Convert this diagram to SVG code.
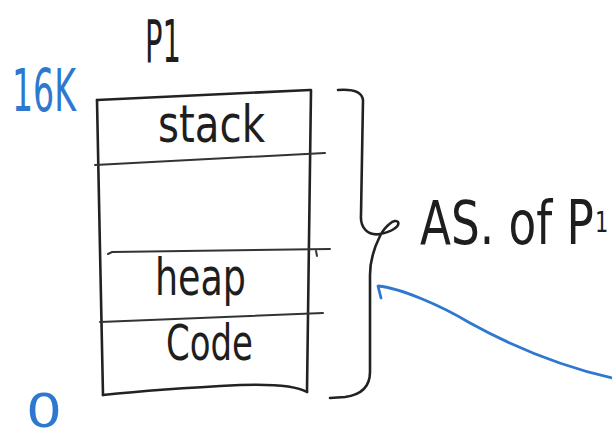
<svg xmlns="http://www.w3.org/2000/svg" width="612" height="439" viewBox="0 0 612 439">
  <style>
    .ink { fill: none; stroke: #222; stroke-width: 2.6; stroke-linecap: round; stroke-linejoin: round; }
    .thin { fill: none; stroke: #333; stroke-width: 2; stroke-linecap: round; }
    .blue { fill: none; stroke: #2f78d0; stroke-width: 2.8; stroke-linecap: round; stroke-linejoin: round; }
    .hand { font-family: "DejaVu Sans", "Liberation Sans", sans-serif; fill: #1e1e1e; }
    .bluetxt { font-family: "DejaVu Sans", "Liberation Sans", sans-serif; fill: #2f78d0; }
  </style>
  <rect width="612" height="439" fill="#ffffff"/>

  <!-- process title -->
  <g id="title-p1">
    <text class="hand" x="145" y="62" font-size="58" textLength="36" lengthAdjust="spacingAndGlyphs">P1</text>
  </g>

  <!-- address bounds -->
  <g id="addr-top">
    <text class="bluetxt" x="12" y="111" font-size="58" textLength="64" lengthAdjust="spacingAndGlyphs">16K</text>
  </g>
  <g id="addr-bottom">
    <text class="bluetxt" x="26" y="427" font-size="46" textLength="36" lengthAdjust="spacingAndGlyphs">0</text>
  </g>

  <!-- address space box with its segments -->
  <g id="address-space">
    <path class="ink" d="M97,100 L310,90"/>
    <path class="ink" d="M97,100 L100,250 L103,395"/>
    <path class="ink" d="M311,90 L309,240 L307,392"/>
    <path class="ink" d="M103,395 C150,390 200,387 240,385 C270,384 295,385 307,392"/>
  </g>

  <g id="seg-stack">
    <path class="thin" d="M95,165 L325,153"/>
    <text class="hand" x="158" y="142" font-size="52" textLength="107" lengthAdjust="spacingAndGlyphs">stack</text>
  </g>

  <g id="seg-heap">
    <path class="thin" d="M108,254 L112,252 L330,249"/>
    <path class="thin" d="M316,251 L317,256"/>
    <text class="hand" x="155" y="295" font-size="52" textLength="91" lengthAdjust="spacingAndGlyphs">heap</text>
  </g>

  <g id="seg-code">
    <path class="thin" d="M100,322 L323,313"/>
    <text class="hand" x="166" y="360" font-size="50" textLength="87" lengthAdjust="spacingAndGlyphs">Code</text>
  </g>

  <!-- brace label, squeezed horizontally like the handwriting -->
  <g id="label-as">
    <text class="hand" transform="translate(420,244) scale(0.755,1)" font-size="60">AS. of P</text>
    <text class="hand" transform="translate(595,232) scale(0.75,1)" font-size="28">1</text>
  </g>

  <!-- connectors -->
  <g id="connectors">
    <path class="ink" d="M338,90 C352,89 362,92 363,100 L361,215 C360,228 368,236 380,234 C392,232 400,226 398,222 C395,218 385,226 380,236 C374,248 370,260 370,275 L370,372 C370,388 360,395 345,397 L330,398"/>
    <path class="blue" d="M381,298 L378,286 C400,288 440,305 470,323 C510,345 560,366 612,378"/>
  </g>
</svg>
